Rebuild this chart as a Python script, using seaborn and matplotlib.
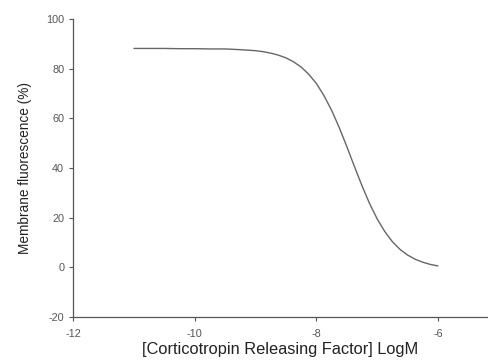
import matplotlib
matplotlib.use("Agg")
import matplotlib.pyplot as plt
import seaborn as sns

# log concentration of CRF (M) and membrane fluorescence (%)
log_conc = [-11.0, -10.75, -10.5, -10.25, -10.0, -9.75, -9.5, -9.25, -9.125,
            -9.0, -8.875, -8.75, -8.625, -8.5, -8.375, -8.25, -8.125, -8.0,
            -7.875, -7.75, -7.625, -7.5, -7.375, -7.25, -7.125, -7.0, -6.875,
            -6.75, -6.625, -6.5, -6.375, -6.25, -6.125, -6.0]
fluorescence = [88.2, 88.2, 88.2, 88.1, 88.1, 88.0, 88.0, 87.7, 87.5,
                87.3, 86.9, 86.3, 85.5, 84.4, 82.8, 80.7, 77.8, 74.1,
                69.2, 63.3, 56.4, 48.7, 40.7, 32.9, 25.7, 19.5, 14.4,
                10.3, 7.2, 4.9, 3.2, 2.0, 1.1, 0.5]

x_ticks = [-12, -10, -8, -6]
y_ticks = [-20, 0, 20, 40, 60, 80, 100]

sns.set_style("ticks")
plt.rcParams["font.family"] = ["Liberation Sans", "DejaVu Sans"]
plt.rcParams["axes.unicode_minus"] = False

fig = plt.figure(figsize=(4.88, 3.62), dpi=100)
ax = fig.add_axes([0.150, 0.125, 0.847, 0.822])

sns.lineplot(x=log_conc, y=fluorescence, ax=ax, color="#666666", linewidth=1.0)

ax.set_xlim(-12, -5.2)
ax.set_ylim(-20, 100)
ax.set_xticks(x_ticks)
ax.set_yticks(y_ticks)
ax.tick_params(axis="both", labelsize=7.8, colors="#555555", length=3,
               width=0.8, direction="out", labelcolor="#555555")
ax.tick_params(axis="x", pad=6)

for side in ["top", "right"]:
    ax.spines[side].set_visible(False)
for side in ["left", "bottom"]:
    ax.spines[side].set_color("#555555")
    ax.spines[side].set_linewidth(0.9)

ax.set_xlabel("[Corticotropin Releasing Factor] LogM", fontsize=11.8,
              color="#222222", labelpad=2)
ax.set_ylabel("Membrane fluorescence (%)", fontsize=9.8, color="#222222",
              labelpad=10)

fig.savefig("out.png", dpi=100)
